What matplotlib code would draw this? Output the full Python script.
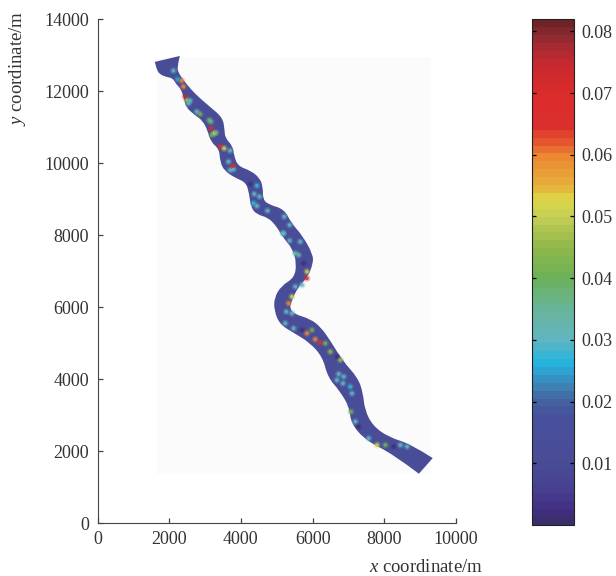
import matplotlib
matplotlib.use('Agg')
import matplotlib.pyplot as plt
from matplotlib.colors import LinearSegmentedColormap, Normalize
from matplotlib.cm import ScalarMappable
from matplotlib.patches import Rectangle, PathPatch
from matplotlib.path import Path

# river banks, top of the reach to the bottom
left_x = [1634, 1671, 1746, 1932, 2118, 2211, 2351, 2444, 2490, 2723, 2956, 3096, 3189, 3421, 3449, 3561,
          3840, 4166, 4259, 4306, 4446, 4771, 5004, 5191, 5470, 5582, 5517, 5144, 4958, 4958, 5098, 5470,
          5936, 6308, 6448, 6773, 7053, 7099, 7518, 8263, 8961]
left_y = [12787, 12630, 12491, 12417, 12380, 12213, 12074, 11796, 11565, 11361, 11195, 10917, 10593, 10407,
          10037, 9806, 9620, 9481, 9157, 8787, 8602, 8509, 8278, 7954, 7630, 7213, 6796, 6565, 6241, 5917,
          5546, 5315, 5037, 4620, 4065, 3694, 3231, 2768, 2305, 1935, 1407]
right_x = [2258, 2192, 2230, 2397, 2584, 2816, 3142, 3468, 3515, 3533, 3747, 3775, 3887, 4259, 4492, 4585,
           4585, 4771, 5190, 5377, 5703, 5982, 5982, 5842, 5563, 5377, 5330, 5470, 5936, 6215, 6448, 6820,
           7239, 7379, 7425, 7658, 8123, 8729, 9306]
right_y = [12935, 12676, 12491, 12260, 12028, 11796, 11519, 11241, 10917, 10685, 10454, 10222, 9898, 9759,
           9574, 9343, 8972, 8815, 8694, 8324, 7954, 7445, 7213, 6843, 6565, 6148, 5963, 5778, 5639, 5407,
           5083, 4481, 4018, 3602, 3139, 2676, 2352, 2166, 1796]

# value of the flat part of the river
base_value = 0.012

# local patches in the field
spot_x = [2118, 2230, 2351, 2397, 2490, 2584, 2444, 2537, 2770, 2863, 3114, 3161, 3254, 3189, 3310, 3170,
          3421, 3533, 3701, 3654, 3701, 3794, 3775, 4259, 4446, 4371, 4520, 4446, 4743, 4352, 5172, 5209,
          5358, 5191, 5358, 5656, 5517, 5610, 5749, 5842, 5842, 5517, 5703, 5423, 5330, 5265, 5423, 5237,
          5470, 5703, 5982, 5842, 6075, 6215, 6354, 6494, 6680, 6773, 6727, 6867, 6680, 6848, 7053, 7099,
          7071, 7192, 7285, 7565, 7798, 8030, 8263, 8449, 8635]
spot_y = [12565, 12324, 12287, 12121, 11750, 11732, 11843, 11658, 11426, 11361, 11195, 11148, 10824, 10778,
          10843, 10963, 10454, 10407, 10343, 10037, 9806, 9824, 9917, 9417, 9370, 9139, 9065, 8806, 8676,
          8880, 8046, 8509, 8278, 8047, 7843, 7815, 7491, 7445, 7213, 6982, 6796, 6565, 6611, 6287, 6102,
          5870, 5824, 5546, 5407, 5361, 5361, 5269, 5102, 5009, 4991, 4759, 4620, 4528, 4139, 4065, 3972,
          3880, 3787, 3602, 3092, 2815, 2676, 2352, 2166, 2166, 2120, 2166, 2120]
spot_v = [0.03, 0.025, 0.06, 0.06, 0.045, 0.03, 0.075, 0.03, 0.03, 0.04, 0.04, 0.035, 0.05, 0.04, 0.035, 0.07,
          0.07, 0.05, 0.03, 0.03, 0.03, 0.03, 0.07, 0.002, 0.028, 0.03, 0.03, 0.03, 0.03, 0.028, 0.03, 0.03,
          0.03, 0.03, 0.03, 0.03, 0.03, 0.035, 0.002, 0.05, 0.07, 0.03, 0.03, 0.05, 0.06, 0.03, 0.03, 0.03,
          0.03, 0.002, 0.04, 0.06, 0.06, 0.065, 0.04, 0.045, 0.002, 0.045, 0.03, 0.03, 0.03, 0.03, 0.028, 0.03,
          0.04, 0.03, 0.002, 0.03, 0.05, 0.04, 0.002, 0.03, 0.03]

# colour bar stops, value and colour
cmap_values = [0, 0.002, 0.005, 0.01, 0.017, 0.02, 0.022, 0.0261, 0.03, 0.035, 0.04, 0.045, 0.05, 0.053,
               0.055, 0.06, 0.0625, 0.065, 0.07, 0.075, 0.078, 0.08, 0.082]
cmap_colors = ['#3b2f6b', '#432e85', '#47408f', '#4a4c96', '#47509c', '#44639f', '#3f7fb3', '#25b3de',
               '#62b5bf', '#68b49a', '#6cb058', '#8fb84a', '#c4cd55', '#dcd84a', '#e6b23c', '#ec8632',
               '#e5552f', '#db2f2e', '#dc2c2c', '#c9292e', '#a82a33', '#8a2a30', '#6e2426']

x_ticks = [0, 2000, 4000, 6000, 8000, 10000]
y_ticks = [0, 2000, 4000, 6000, 8000, 10000, 12000, 14000]
bar_ticks = [0.01, 0.02, 0.03, 0.04, 0.05, 0.06, 0.07, 0.08]

plt.rcParams['font.family'] = ['Liberation Serif', 'DejaVu Serif']
plt.rcParams['mathtext.fontset'] = 'custom'
plt.rcParams['mathtext.it'] = 'Liberation Serif:italic'
plt.rcParams['mathtext.rm'] = 'Liberation Serif'

W, H = 616., 576.
txt = '#333333'

vmax = cmap_values[-1]
cmap = LinearSegmentedColormap.from_list('flow', [(v / vmax, c) for v, c in zip(cmap_values, cmap_colors)], N=64)
norm = Normalize(0, vmax)


def bank_segments(xs, ys, verts, codes):
    # rounded line through the bank points, ends stay where they are
    verts.append((xs[0], ys[0]))
    codes.append(Path.LINETO if verts[:-1] else Path.MOVETO)
    for i in range(1, len(xs) - 1):
        verts.append((xs[i], ys[i]))
        codes.append(Path.CURVE3)
        if i == len(xs) - 2:
            verts.append((xs[-1], ys[-1]))
        else:
            verts.append(((xs[i] + xs[i + 1]) / 2., (ys[i] + ys[i + 1]) / 2.))
        codes.append(Path.CURVE3)


f = plt.figure(figsize=(W / 100, H / 100), dpi=100)
ax = f.add_axes([97.5 / W, 1 - 523 / H, 358.5 / W, 504 / H])

# the pale box behind the river
ax.add_patch(Rectangle((1660, 1361), 9316 - 1660, 12944 - 1361, facecolor='#fbfbfb', edgecolor='none', zorder=0))

verts, codes = [], []
bank_segments(left_x, left_y, verts, codes)
bank_segments(right_x[::-1], right_y[::-1], verts, codes)
verts.append(verts[0])
codes.append(Path.CLOSEPOLY)
river = PathPatch(Path(verts, codes), facecolor=cmap(norm(base_value)), edgecolor=cmap(norm(base_value)),
                  linewidth=1.5, zorder=1)
ax.add_patch(river)

# soft edge first, then the core of each patch
ax.scatter(spot_x, spot_y, c=spot_v, cmap=cmap, norm=norm, s=26, marker='o', linewidths=0, alpha=0.3, zorder=2)
ax.scatter(spot_x, spot_y, c=spot_v, cmap=cmap, norm=norm, s=7, marker='o', linewidths=0, alpha=0.85, zorder=3)

ax.set_xlim(0, 10000)
ax.set_ylim(0, 14000)
ax.set_xticks(x_ticks)
ax.set_yticks(y_ticks)
ax.tick_params(direction='in', length=3.5, width=0.9, color='#444444', labelcolor=txt, labelsize=13)
ax.tick_params(axis='x', pad=6)
ax.tick_params(axis='y', pad=6)
ax.spines['top'].set_visible(False)
ax.spines['right'].set_visible(False)
ax.spines['left'].set_color('#444444')
ax.spines['bottom'].set_color('#444444')

f.text(483 / W, 1 - 567 / H, '$x$ coordinate/m', ha='right', va='center', fontsize=13.5, color=txt)
f.text(18 / W, 1 - 11 / H, '$y$ coordinate/m', ha='center', va='top', rotation=90, fontsize=13.5, color=txt)

# colour bar
cax = f.add_axes([531.5 / W, 1 - 525 / H, 42 / W, 506 / H])
cb = f.colorbar(ScalarMappable(norm=norm, cmap=cmap), cax=cax)
cb.set_ticks(bar_ticks)
cb.set_ticklabels(['%.2f' % t for t in bar_ticks])
cax.yaxis.set_ticks_position('both')
cax.tick_params(direction='in', length=3, width=0.9, color='black', labelcolor=txt, labelsize=13, pad=6,
                labelleft=False, labelright=True)
cb.outline.set_edgecolor('#222222')
cb.outline.set_linewidth(0.8)

f.savefig('out.png', dpi=100)
